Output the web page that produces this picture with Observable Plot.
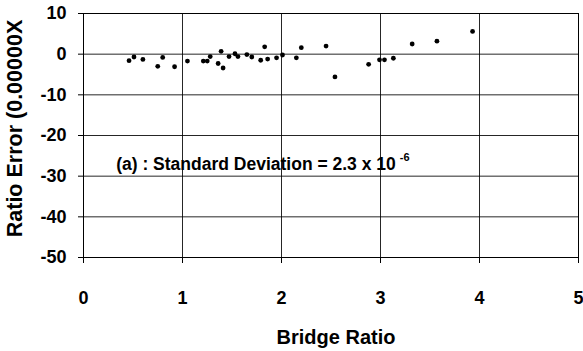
<!DOCTYPE html>
<html>
<head>
<meta charset="utf-8">
<script src="https://cdn.jsdelivr.net/npm/d3@7"></script>
<script src="https://cdn.jsdelivr.net/npm/@observablehq/plot@0.6"></script>
<style>
  html, body { margin: 0; padding: 0; background: #fff; }
  svg { display: block; }
</style>
</head>
<body>
<div id="chart"></div>
<script>
const bridgeRatio = [0.46, 0.51, 0.60, 0.75, 0.80, 0.92, 1.05, 1.21, 1.25, 1.28, 1.36, 1.39, 1.41, 1.47, 1.53, 1.56, 1.65, 1.70, 1.79, 1.83, 1.86, 1.95, 2.01, 2.15, 2.20, 2.45, 2.54, 2.88, 2.99, 3.04, 3.13, 3.32, 3.57, 3.93];
const ratioError = [-1.6, -0.7, -1.3, -3.0, -0.8, -3.1, -1.7, -1.7, -1.7, -0.6, -2.3, 0.7, -3.4, -0.6, 0.1, -0.6, -0.1, -0.7, -1.5, 1.8, -1.2, -0.9, -0.2, -0.9, 1.6, 2.0, -5.6, -2.5, -1.4, -1.4, -1.0, 2.5, 3.2, 5.6];
const xTicks = [0, 1, 2, 3, 4, 5];
const yTicks = [10, 0, -10, -20, -30, -40, -50];
const annotation = [{x: 0.33, y: -27.2, text: "(a) : Standard Deviation = 2.3 x 10", sup: "-6"}];

const data = bridgeRatio.map((x, i) => ({x, y: ratioError[i]}));
const font = "Liberation Sans, Arial, sans-serif";

const chart = Plot.plot({
  width: 583,
  height: 351,
  marginLeft: 83,
  marginRight: 5,
  marginTop: 13,
  marginBottom: 94,
  style: {fontFamily: font, background: "#fff", color: "#000"},
  x: {domain: [0, 5], ticks: xTicks},
  y: {domain: [-50, 10], ticks: yTicks},
  marks: [
    Plot.gridX(xTicks, {stroke: "#000", strokeOpacity: 0.85, strokeWidth: 1}),
    Plot.gridY(yTicks, {stroke: "#000", strokeOpacity: 0.85, strokeWidth: 1}),
    Plot.frame({stroke: "#000", strokeWidth: 1}),
    Plot.axisX(xTicks, {tickSize: 6, tickPadding: 28, fontSize: 18, fontWeight: "bold", label: null, tickFormat: d => String(d)}),
    Plot.axisY(yTicks, {tickSize: 5, tickPadding: 12, fontSize: 18, fontWeight: "bold", label: null, tickFormat: d => String(d)}),
    Plot.dot(data, {x: "x", y: "y", r: 2.4, fill: "#000", stroke: "none"}),
    Plot.text(annotation, {x: "x", y: "y", text: "text", textAnchor: "start", fontSize: 17.5, fontWeight: "bold", fill: "#000", className: "anno"}),
    Plot.text(["Bridge Ratio"], {frameAnchor: "bottom", dx: 5, dy: 86, fontSize: 20, fontWeight: "bold", fill: "#000"}),
    Plot.text(["Ratio Error (0.00000X"], {frameAnchor: "left", textAnchor: "middle", dx: -68, dy: -7, rotate: -90, fontSize: 21.5, fontWeight: "bold", fill: "#000"})
  ]
});

// superscript exponent for the annotation
d3.select(chart).selectAll("g.anno text").each(function(d, i) {
  d3.select(this).append("tspan")
    .attr("dy", "-0.85em")
    .attr("dx", "4")
    .attr("font-size", 11)
    .text(annotation[i].sup);
});

document.getElementById("chart").appendChild(chart);
</script>
</body>
</html>
